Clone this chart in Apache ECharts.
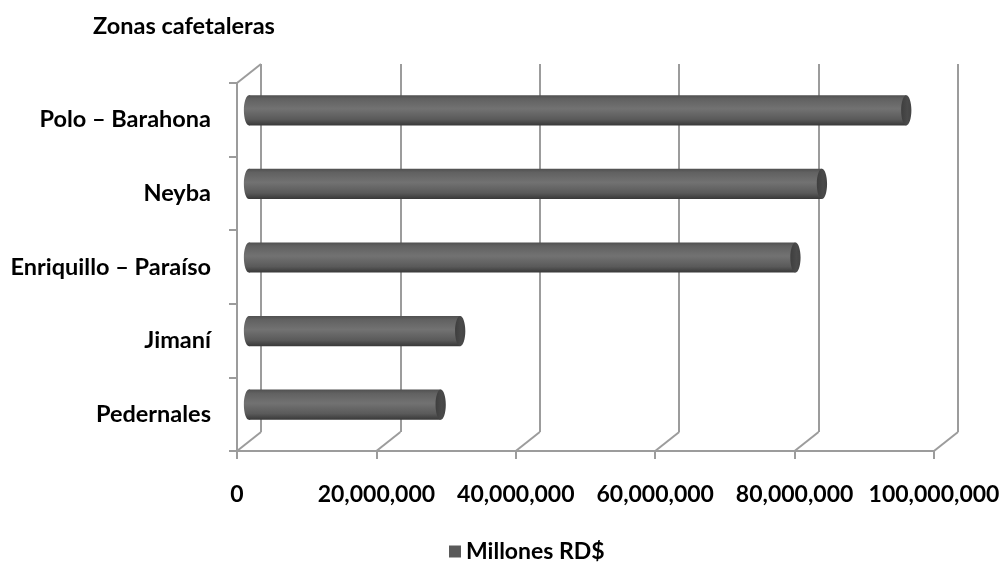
<!DOCTYPE html>
<html>
<head>
<meta charset="utf-8">
<script src="https://cdn.jsdelivr.net/npm/echarts@6/dist/echarts.min.js"></script>
<style>html,body{margin:0;padding:0;background:#fff}#c{width:1004px;height:565px}</style>
</head>
<body>
<div id="c"></div>
<script>
// ---- data ----
const categories = ['Pedernales', 'Jimaní', 'Enriquillo – Paraíso', 'Neyba', 'Polo – Barahona'];
const values = [27500000, 30300000, 78400000, 82200000, 94300000];
const seriesName = 'Millones RD$';
const axisTitle = 'Zonas cafetaleras';
const xMin = 0, xMax = 100000000, xInterval = 20000000;

// ---- layout ----
const FRONT = { left: 237, top: 83, width: 696, height: 368 };
const DEPTH = { dx: 24, dy: -19 };
const FONT = 'Lato';
const FS = 23.5;
const GRID_COLOR = '#9c9c9c';

function fmt(v) { return v.toLocaleString('en-US'); }

const chart = echarts.init(document.getElementById('c'), null, { renderer: 'canvas' });

function gridAt(f) {
  return { left: FRONT.left + DEPTH.dx * f, top: FRONT.top + DEPTH.dy * f, width: FRONT.width + 1, height: FRONT.height, containLabel: false };
}

const hiddenX = (gi, split) => ({
  type: 'value', gridIndex: gi, min: xMin, max: xMax, interval: xInterval,
  axisLine: { show: false }, axisTick: { show: false }, axisLabel: { show: false },
  splitLine: { show: split, lineStyle: { color: GRID_COLOR, width: 2 } }
});
const hiddenY = (gi) => ({
  type: 'category', gridIndex: gi, data: categories,
  axisLine: { show: false }, axisTick: { show: false }, axisLabel: { show: false }, splitLine: { show: false }
});

const option = {
  animation: false,
  title: { text: axisTitle, left: 88, top: 9, textStyle: { fontFamily: FONT, fontWeight: 'bold', fontSize: FS, color: '#000' } },
  legend: {
    top: 535, left: 444, itemWidth: 12, itemHeight: 12, itemGap: 6,
    textStyle: { fontFamily: FONT, fontWeight: 'bold', fontSize: FS - 0.5, color: '#000' },
    data: [{ name: seriesName, icon: 'rect', itemStyle: { color: '#5a5a5a' } }]
  },
  grid: [gridAt(0), gridAt(1), gridAt(0.5)],
  xAxis: [
    {
      type: 'value', gridIndex: 0, min: xMin, max: xMax, interval: xInterval,
      axisLine: { show: true, lineStyle: { color: GRID_COLOR, width: 2 } },
      axisTick: { show: true, length: 8, lineStyle: { color: GRID_COLOR, width: 2 } },
      axisLabel: { margin: 32, fontFamily: FONT, fontWeight: 'bold', fontSize: FS - 0.5, color: '#000', formatter: fmt },
      splitLine: { show: false }
    },
    hiddenX(1, true),
    hiddenX(2, false)
  ],
  yAxis: [
    {
      type: 'category', gridIndex: 0, data: categories,
      axisLine: { show: true, lineStyle: { color: GRID_COLOR, width: 2 } },
      axisTick: { show: true, length: 8, lineStyle: { color: GRID_COLOR, width: 2 } },
      axisLabel: { margin: 26, padding: [12, 0, 0, 0], fontFamily: FONT, fontWeight: 'bold', fontSize: FS, color: '#000' },
      splitLine: { show: false }
    },
    hiddenY(1),
    hiddenY(2)
  ],
  series: [{
    type: 'custom', name: seriesName, xAxisIndex: 2, yAxisIndex: 2,
    itemStyle: { color: '#5a5a5a' },
    encode: { x: 0, y: 1 },
    data: values.map((v, i) => [v, i]),
    renderItem: function (params, api) {
      const idx = api.value(1);
      const p0 = api.coord([0, idx]);
      const p1 = api.coord([api.value(0), idx]);
      const band = api.size([0, 1])[1];
      const h = band * 0.41;
      const rx = h * 0.17;
      const body = new echarts.graphic.LinearGradient(0, 0, 0, 1, [
        { offset: 0, color: '#505050' }, { offset: 0.12, color: '#616161' },
        { offset: 0.45, color: '#727272' }, { offset: 0.8, color: '#5a5a5a' }, { offset: 1, color: '#383838' }
      ]);
      const cap = new echarts.graphic.LinearGradient(0, 0, 1, 0, [
        { offset: 0, color: '#3e3e3e' }, { offset: 0.6, color: '#4a4a4a' }, { offset: 1, color: '#444444' }
      ]);
      return {
        type: 'group',
        children: [
          { type: 'ellipse', shape: { cx: p0[0], cy: p0[1], rx: rx, ry: h / 2 }, style: { fill: body } },
          { type: 'rect', shape: { x: p0[0], y: p0[1] - h / 2, width: p1[0] - p0[0], height: h }, style: { fill: body } },
          { type: 'ellipse', shape: { cx: p1[0], cy: p1[1], rx: rx, ry: h / 2 }, style: { fill: cap } }
        ]
      };
    }
  }]
};
chart.setOption(option);

// depth connectors (floor diagonals and top-left edge), positioned from the axes
const lines = [];
for (let v = xMin; v <= xMax; v += xInterval) {
  const xf = chart.convertToPixel({ xAxisIndex: 0 }, v);
  const xb = chart.convertToPixel({ xAxisIndex: 1 }, v);
  lines.push([xf, FRONT.top + FRONT.height, xb, FRONT.top + FRONT.height + DEPTH.dy]);
}
const x0f = chart.convertToPixel({ xAxisIndex: 0 }, xMin);
const x0b = chart.convertToPixel({ xAxisIndex: 1 }, xMin);
lines.push([x0f, FRONT.top, x0b, FRONT.top + DEPTH.dy]);
chart.setOption({
  graphic: lines.map(l => ({
    type: 'line', z: 1, shape: { x1: l[0], y1: l[1], x2: l[2], y2: l[3] },
    style: { stroke: GRID_COLOR, lineWidth: 2 }
  }))
});
</script>
</body>
</html>
